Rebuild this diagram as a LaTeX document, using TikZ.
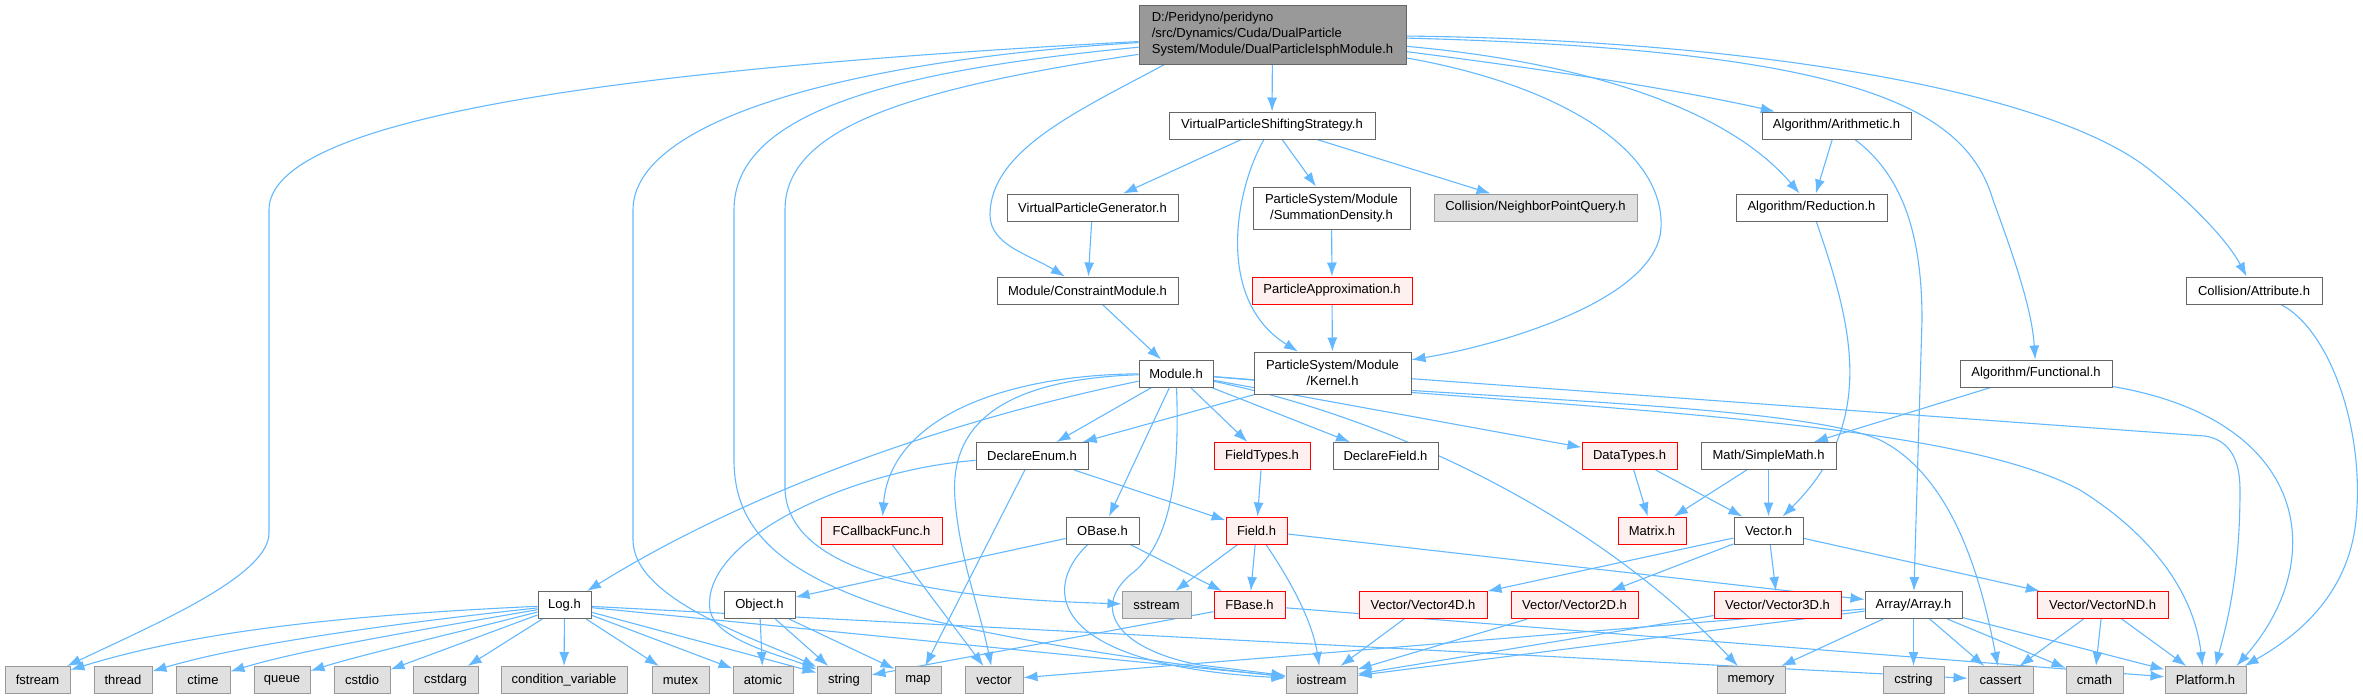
\documentclass[tikz,border=0pt]{standalone}
\usepackage{fontspec}
\setmainfont{Liberation Sans}
\usetikzlibrary{arrows.meta}
\definecolor{edgeblue}{HTML}{63B8FF}
\definecolor{boxgray}{HTML}{666666}
\definecolor{graydraw}{HTML}{999999}
\definecolor{grayfill}{HTML}{E0E0E0}
\definecolor{redfill}{HTML}{FFF0F0}
\definecolor{reddraw}{HTML}{FF0000}
\definecolor{mainfill}{HTML}{999999}
\pgfdeclarelayer{background}
\pgfsetlayers{background,main}
\tikzset{
 nb/.style={line width=1pt, inner sep=0pt, minimum height=27pt, font=\fontsize{13}{16}\selectfont, text=black, align=center},
 wbox/.style={nb, draw=boxgray, fill=white},
 rbox/.style={nb, draw=reddraw, fill=redfill},
 gbox/.style={nb, draw=graydraw, fill=grayfill},
 mbox/.style={nb, draw=boxgray, fill=mainfill, align=left, minimum height=59pt},
 dep/.style={draw=edgeblue, line width=1.1pt, -{Latex[length=14pt,width=10pt]}},
}
\begin{document}
\begin{tikzpicture}[x=1pt,y=-1pt]
\useasboundingbox (0,0) rectangle (2363,699);
% nodes
\node[mbox, minimum width=267pt] (mainf) at (1272.5,34.5) {D:/Peridyno/peridyno\\/src/Dynamics/Cuda/DualParticle\\System/Module/DualParticleIsphModule.h};
\node[wbox, minimum width=206pt] (vpss) at (1272,125.5) {VirtualParticleShiftingStrategy.h};
\node[wbox, minimum width=171pt] (vpg) at (1092.5,207.5) {VirtualParticleGenerator.h};
\node[wbox, minimum width=157pt, minimum height=42pt] (sd) at (1331.5,208) {ParticleSystem/Module\\/SummationDensity.h};
\node[gbox, minimum width=203pt] (npq) at (1535.5,207.5) {Collision/NeighborPointQuery.h};
\node[wbox, minimum width=181pt] (cm) at (1087.5,290.5) {Module/ConstraintModule.h};
\node[rbox, minimum width=160pt] (pa) at (1332,290.5) {ParticleApproximation.h};
\node[wbox, minimum width=149pt] (arith) at (1836.5,125.5) {Algorithm/Arithmetic.h};
\node[wbox, minimum width=151pt] (redu) at (1811.5,207.5) {Algorithm/Reduction.h};
\node[wbox, minimum width=136pt] (attr) at (2254,290.5) {Collision/Attribute.h};
\node[wbox, minimum width=74pt] (module) at (1176,373.5) {Module.h};
\node[wbox, minimum width=157pt, minimum height=42pt] (kernel) at (1332.5,373) {ParticleSystem/Module\\/Kernel.h};
\node[wbox, minimum width=152pt] (func) at (2036,373.5) {Algorithm/Functional.h};
\node[wbox, minimum width=112pt] (denum) at (1032,456) {DeclareEnum.h};
\node[rbox, minimum width=96pt] (ftypes) at (1262,456) {FieldTypes.h};
\node[wbox, minimum width=105pt] (dfield) at (1385.5,456) {DeclareField.h};
\node[rbox, minimum width=95pt] (dtypes) at (1629.5,456) {DataTypes.h};
\node[wbox, minimum width=135pt] (smath) at (1768.5,456) {Math/SimpleMath.h};
\node[rbox, minimum width=121pt] (fcb) at (881.5,530.5) {FCallbackFunc.h};
\node[wbox, minimum width=73pt] (obase) at (1102.5,530.5) {OBase.h};
\node[rbox, minimum width=61pt] (field) at (1256.5,530.5) {Field.h};
\node[rbox, minimum width=68pt] (matrix) at (1652,530.5) {Matrix.h};
\node[wbox, minimum width=69pt] (vech) at (1768.5,530.5) {Vector.h};
\node[wbox, minimum width=53pt] (log) at (564.5,605) {Log.h};
\node[wbox, minimum width=71pt] (object) at (759.5,605) {Object.h};
\node[gbox, minimum width=69pt] (sstream) at (1156.5,605) {sstream};
\node[rbox, minimum width=71pt] (fbase) at (1249.5,605) {FBase.h};
\node[rbox, minimum width=128pt] (v4) at (1423,605) {Vector/Vector4D.h};
\node[rbox, minimum width=127pt] (v2) at (1574.5,605) {Vector/Vector2D.h};
\node[rbox, minimum width=127pt] (v3) at (1777.5,605) {Vector/Vector3D.h};
\node[wbox, minimum width=97pt] (array) at (1913.5,605) {Array/Array.h};
\node[rbox, minimum width=131pt] (vnd) at (2102.5,605) {Vector/VectorND.h};
\node[gbox, minimum width=65pt] (fstream) at (37.5,680) {fstream};
\node[gbox, minimum width=58pt] (thread) at (123,680) {thread};
\node[gbox, minimum width=54pt] (ctime) at (203,680) {ctime};
\node[gbox, minimum width=56pt] (queue) at (282,680) {queue};
\node[gbox, minimum width=56pt] (cstdio) at (362,680) {cstdio};
\node[gbox, minimum width=65pt] (cstdarg) at (445.5,680) {cstdarg};
\node[gbox, minimum width=126pt] (condvar) at (564,680) {condition\_variable};
\node[gbox, minimum width=57pt] (mutex) at (680.5,680) {mutex};
\node[gbox, minimum width=60pt] (atomic) at (763,680) {atomic};
\node[gbox, minimum width=54pt] (string) at (844,680) {string};
\node[gbox, minimum width=46pt] (map) at (918,680) {map};
\node[gbox, minimum width=58pt] (vector) at (994,680) {vector};
\node[gbox, minimum width=71pt] (iostream) at (1321.5,680) {iostream};
\node[gbox, minimum width=68pt] (memory) at (1751,680) {memory};
\node[gbox, minimum width=61pt] (cstring) at (1913.5,680) {cstring};
\node[gbox, minimum width=65pt] (cassert) at (2000.5,680) {cassert};
\node[gbox, minimum width=57pt] (cmath) at (2094.5,680) {cmath};
\node[gbox, minimum width=81pt] (platform) at (2205.5,680) {Platform.h};
% edges
\begin{pgfonlayer}{background}
\path[dep] (mainf) -- (vpss);
\path[dep] ([xshift=26pt]mainf.south west) .. controls (1080,110) and (990,150) .. (990,215) .. controls (990,245) and (1030,255) .. (cm);
\path[dep] (mainf) .. controls (1560,85) and (1665,150) .. (1661,228) .. controls (1657,300) and (1500,345) .. (kernel);
\path[dep] (mainf) .. controls (1550,70) and (1680,90) .. (arith);
\path[dep] (mainf) .. controls (1560,60) and (1720,100) .. (redu);
\path[dep] (mainf) .. controls (1850,50) and (1965,105) .. (1993,200) .. controls (2015,260) and (2032,310) .. (func);
\path[dep] (mainf) .. controls (1750,40) and (2050,90) .. (2150,170) .. controls (2200,210) and (2230,245) .. (attr);
\path[dep] (mainf) .. controls (600,70) and (269,120) .. (269,210) -- (269,533) .. controls (269,575) and (160,622) .. (fstream);
\path[dep] (mainf) .. controls (850,60) and (633,120) .. (633,210) -- (633,540) .. controls (633,600) and (760,640) .. (string);
\path[dep] (mainf) .. controls (900,70) and (734,110) .. (734,210) -- (734,460) .. controls (734,530) and (780,580) .. (930,620) .. controls (1050,648) and (1200,668) .. (iostream);
\path[dep] (mainf) .. controls (900,90) and (785,130) .. (785,210) -- (785,490) .. controls (790,590) and (1000,600) .. (sstream);
\path[dep] (vpss) -- (vpg);
\path[dep] (vpss) -- (sd);
\path[dep] (vpss) -- (npq);
\path[dep] (vpss) .. controls (1235,190) and (1215,300) .. (kernel);
\path[dep] (vpg) -- (cm);
\path[dep] (sd) -- (pa);
\path[dep] (pa) -- (kernel);
\path[dep] (cm) -- (module);
\path[dep] (arith) -- (redu);
\path[dep] (arith) .. controls (1895,170) and (1922,220) .. (1922,320) -- (array);
\path[dep] (redu) .. controls (1850,320) and (1880,420) .. (vech);
\path[dep] (func) -- (smath);
\path[dep] (func) .. controls (2310,420) and (2330,560) .. ([xshift=-10pt]platform.north east);
\path[dep] (attr) .. controls (2330,330) and (2365,430) .. (2356,520) .. controls (2348,600) and (2290,640) .. ([xshift=-2pt]platform.north east);
\path[dep] (kernel) -- (denum);
\path[dep] (kernel) -- (2205,436) .. controls (2230,440) and (2240,460) .. (2240,490) .. controls (2240,580) and (2225,630) .. ([xshift=10pt]platform.north);
\path[dep] (module) .. controls (950,420) and (750,490) .. (log);
\path[dep] (module) .. controls (1000,375) and (890,420) .. (fcb);
\path[dep] (module) .. controls (980,380) and (950,440) .. (955,500) .. controls (960,560) and (980,610) .. (vector);
\path[dep] (module) -- (denum);
\path[dep] (module) -- (obase);
\path[dep] (module) .. controls (1180,480) and (1170,545) .. (1130,575) .. controls (1090,610) and (1120,650) .. (1200,665) -- (iostream);
\path[dep] (module) -- (ftypes);
\path[dep] (module) -- (dfield);
\path[dep] (module) -- (dtypes);
\path[dep] (module) .. controls (1400,420) and (1600,520) .. (memory);
\path[dep] (module) .. controls (1500,400) and (1800,405) .. (1880,440) .. controls (1960,480) and (1985,600) .. (cassert);
\path[dep] (module) .. controls (1600,410) and (1950,420) .. (2080,490) .. controls (2160,540) and (2195,600) .. ([xshift=-3pt]platform.north);
\path[dep] (denum) -- (field);
\path[dep] (denum) -- (map);
\path[dep] (denum) .. controls (850,470) and (700,540) .. (710,610) .. controls (715,640) and (780,655) .. (string);
\path[dep] (ftypes) -- (field);
\path[dep] (obase) -- (object);
\path[dep] (obase) -- (fbase);
\path[dep] (obase) .. controls (1040,590) and (1050,665) .. (iostream);
\path[dep] (fcb) -- (vector);
\path[dep] (field) -- (sstream);
\path[dep] (field) -- (fbase);
\path[dep] (field) .. controls (1290,580) and (1312,620) .. (iostream);
\path[dep] (field) -- (array);
\path[dep] (vech) -- (v4);
\path[dep] (vech) -- (v2);
\path[dep] (vech) -- (v3);
\path[dep] (vech) -- (vnd);
\path[dep] (dtypes) -- (matrix);
\path[dep] (dtypes) -- (vech);
\path[dep] (smath) -- (matrix);
\path[dep] (smath) -- (vech);
\path[dep] (log) .. controls (350,615) and (200,630) .. (fstream);
\path[dep] (log) .. controls (380,625) and (240,645) .. (thread);
\path[dep] (log) .. controls (420,630) and (300,650) .. (ctime);
\path[dep] (log) .. controls (460,632) and (360,655) .. (queue);
\path[dep] (log) -- (cstdio);
\path[dep] (log) -- (cstdarg);
\path[dep] (log) -- (condvar);
\path[dep] (log) -- (mutex);
\path[dep] (log) -- (atomic);
\path[dep] (log) -- (string);
\path[dep] (log) -- (iostream);
\path[dep] (log) -- (cassert);
\path[dep] (object) -- (atomic);
\path[dep] (object) -- (string);
\path[dep] (object) -- (map);
\path[dep] (fbase) -- (string);
\path[dep] (fbase) -- (platform);
\path[dep] (v4) -- (iostream);
\path[dep] (v2) -- (iostream);
\path[dep] (v3) -- (iostream);
\path[dep] (array) -- (iostream);
\path[dep] (array) -- (vector);
\path[dep] (array) -- (memory);
\path[dep] (array) -- (cstring);
\path[dep] (array) -- (cassert);
\path[dep] (array) -- (cmath);
\path[dep] (array) -- (platform);
\path[dep] (vnd) -- (cassert);
\path[dep] (vnd) -- (cmath);
\path[dep] (vnd) -- (platform);
\end{pgfonlayer}
\end{tikzpicture}
\end{document}
